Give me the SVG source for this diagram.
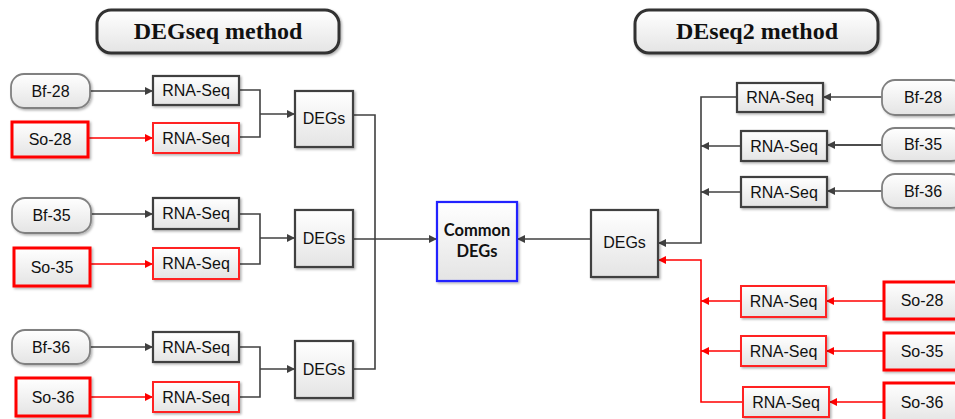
<svg xmlns="http://www.w3.org/2000/svg" width="955" height="419" viewBox="0 0 955 419">
<defs>
<linearGradient id="g" x1="0" y1="0" x2="0" y2="1">
<stop offset="0" stop-color="#ffffff"/>
<stop offset="1" stop-color="#e4e4e4"/>
</linearGradient>
<filter id="sh" x="-10%" y="-10%" width="130%" height="130%">
<feDropShadow dx="1.5" dy="1.5" stdDeviation="1" flood-color="#000" flood-opacity="0.3"/>
</filter>
<marker id="ag" viewBox="0 0 10 10" refX="10" refY="5" markerWidth="8" markerHeight="8" markerUnits="userSpaceOnUse" orient="auto">
<path d="M0,0 L10,5 L0,10 z" fill="#404040"/>
</marker>
<marker id="ar" viewBox="0 0 10 10" refX="10" refY="5" markerWidth="8" markerHeight="8" markerUnits="userSpaceOnUse" orient="auto">
<path d="M0,0 L10,5 L0,10 z" fill="#ff0000"/>
</marker>
</defs>
<style>
.box{fill:url(#g);stroke:#404040;stroke-width:2.2;filter:url(#sh)}
.bf{fill:url(#g);stroke:#808080;stroke-width:1.8;filter:url(#sh)}
.so{fill:url(#g);stroke:#ff0000;stroke-width:3;filter:url(#sh)}
.rr{fill:url(#g);stroke:#ff2020;stroke-width:2;filter:url(#sh)}
.cm{fill:url(#g);stroke:#2020ff;stroke-width:2.2;filter:url(#sh)}
.title{fill:url(#g);stroke:#333333;stroke-width:3;filter:url(#sh)}
.t{font-family:"Liberation Sans",Arial,sans-serif;font-size:16px;fill:#111;text-anchor:middle}
.tt{font-family:"Liberation Serif","Times New Roman",serif;font-size:24px;font-weight:bold;fill:#111;text-anchor:middle}
.tc{font-family:Lato,"Liberation Sans",sans-serif;font-size:16.5px;font-weight:bold;fill:#111;text-anchor:middle}
.cg{fill:none;stroke:#404040;stroke-width:1.6}
.cr{fill:none;stroke:#ff0000;stroke-width:1.6}
</style>

<g id="title-left"><rect class="title" x="97" y="10" width="242" height="43" rx="14"/><text class="tt" x="218" y="39">DEGseq method</text></g>
<g id="title-right"><rect class="title" x="635" y="10" width="243" height="43" rx="14"/><text class="tt" x="757" y="39">DEseq2 method</text></g>

<g id="connectors">
<path class="cg" d="M90,91 H153" marker-end="url(#ag)"/>
<path class="cr" d="M88,138 H153" marker-end="url(#ar)"/>
<path class="cg" d="M239,90 H260 V137 H239"/>
<path class="cg" d="M260,114 H295" marker-end="url(#ag)"/>
<path class="cg" d="M91,214 H153" marker-end="url(#ag)"/>
<path class="cr" d="M90,264 H153" marker-end="url(#ar)"/>
<path class="cg" d="M239,214 H260 V264 H239"/>
<path class="cg" d="M260,238 H295" marker-end="url(#ag)"/>
<path class="cg" d="M90,347 H153" marker-end="url(#ag)"/>
<path class="cr" d="M90,397 H153" marker-end="url(#ar)"/>
<path class="cg" d="M239,347 H260 V397 H239"/>
<path class="cg" d="M260,369 H295" marker-end="url(#ag)"/>
<path class="cg" d="M353,115 H375 V369 H353"/>
<path class="cg" d="M353,239 H437" marker-end="url(#ag)"/>
<path class="cg" d="M591,239 H517" marker-end="url(#ag)"/>
<path class="cg" d="M882,97 H823" marker-end="url(#ag)"/>
<path class="cg" d="M882,145 H827" marker-end="url(#ag)" style="stroke:#111"/>
<path class="cg" d="M882,191 H827" marker-end="url(#ag)"/>
<path class="cg" d="M737,97 H701 V243 H658" marker-end="url(#ag)"/>
<path class="cg" d="M741,146 H701" marker-end="url(#ag)"/>
<path class="cg" d="M741,192 H701" marker-end="url(#ag)"/>
<path class="cr" d="M884,301 H826" marker-end="url(#ar)"/>
<path class="cr" d="M884,351 H826" marker-end="url(#ar)"/>
<path class="cr" d="M884,402 H829" marker-end="url(#ar)"/>
<path class="cr" d="M743,402 H701 V260 H658" marker-end="url(#ar)"/>
<path class="cr" d="M741,301 H701" marker-end="url(#ar)"/>
<path class="cr" d="M741,351 H701" marker-end="url(#ar)"/>
</g>

<g id="bf28-l"><rect class="bf" x="11" y="74" width="79" height="34" rx="13"/><text class="t" x="50.5" y="97">Bf-28</text></g>
<g id="so28-l"><rect class="so" x="12" y="122" width="76" height="35"/><text class="t" x="50" y="145">So-28</text></g>
<g id="rna1-l"><rect class="box" x="153" y="76" width="86" height="29"/><text class="t" x="196" y="96">RNA-Seq</text></g>
<g id="rna2-l"><rect class="rr" x="153" y="123" width="86" height="30"/><text class="t" x="196" y="144">RNA-Seq</text></g>
<g id="degs1-l"><rect class="box" x="295" y="91" width="58" height="56"/><text class="t" x="324" y="124">DEGs</text></g>

<g id="bf35-l"><rect class="bf" x="12" y="198" width="79" height="35" rx="13"/><text class="t" x="51.5" y="221">Bf-35</text></g>
<g id="so35-l"><rect class="so" x="14" y="248" width="76" height="38"/><text class="t" x="52" y="273">So-35</text></g>
<g id="rna3-l"><rect class="box" x="153" y="198" width="86" height="31"/><text class="t" x="196" y="219">RNA-Seq</text></g>
<g id="rna4-l"><rect class="rr" x="153" y="248" width="86" height="31"/><text class="t" x="196" y="269">RNA-Seq</text></g>
<g id="degs2-l"><rect class="box" x="295" y="210" width="58" height="57"/><text class="t" x="324" y="244">DEGs</text></g>

<g id="bf36-l"><rect class="bf" x="12" y="330" width="78" height="34" rx="13"/><text class="t" x="51" y="353">Bf-36</text></g>
<g id="so36-l"><rect class="so" x="16" y="378" width="74" height="38"/><text class="t" x="53" y="403">So-36</text></g>
<g id="rna5-l"><rect class="box" x="153" y="332" width="86" height="30"/><text class="t" x="196" y="353">RNA-Seq</text></g>
<g id="rna6-l"><rect class="rr" x="153" y="382" width="86" height="30"/><text class="t" x="196" y="403">RNA-Seq</text></g>
<g id="degs3-l"><rect class="box" x="295" y="341" width="58" height="57"/><text class="t" x="324" y="375">DEGs</text></g>

<g id="common"><rect class="cm" x="437" y="202" width="80" height="79"/><text class="tc" x="477" y="236">Common</text><text class="tc" x="477" y="257">DEGs</text></g>
<g id="degs-r"><rect class="box" x="591" y="210" width="67" height="67"/><text class="t" x="624.5" y="248">DEGs</text></g>

<g id="rna1-r"><rect class="box" x="737" y="83" width="86" height="29"/><text class="t" x="780" y="103">RNA-Seq</text></g>
<g id="rna2-r"><rect class="box" x="741" y="131" width="86" height="30"/><text class="t" x="784" y="152">RNA-Seq</text></g>
<g id="rna3-r"><rect class="box" x="741" y="177" width="86" height="30"/><text class="t" x="784" y="198">RNA-Seq</text></g>
<g id="bf28-r"><rect class="bf" x="882" y="80" width="82" height="35" rx="13"/><text class="t" x="923" y="103">Bf-28</text></g>
<g id="bf35-r"><rect class="bf" x="882" y="128" width="82" height="33" rx="13"/><text class="t" x="923" y="150">Bf-35</text></g>
<g id="bf36-r"><rect class="bf" x="882" y="174" width="82" height="34" rx="13"/><text class="t" x="923" y="197">Bf-36</text></g>

<g id="rna4-r"><rect class="rr" x="741" y="286" width="85" height="31"/><text class="t" x="783.5" y="307">RNA-Seq</text></g>
<g id="rna5-r"><rect class="rr" x="741" y="336" width="85" height="30"/><text class="t" x="783.5" y="357">RNA-Seq</text></g>
<g id="rna6-r"><rect class="rr" x="743" y="387" width="86" height="30"/><text class="t" x="786" y="408">RNA-Seq</text></g>
<g id="so28-r"><rect class="so" x="884" y="282" width="80" height="37"/><text class="t" x="922" y="306">So-28</text></g>
<g id="so35-r"><rect class="so" x="884" y="333" width="80" height="37"/><text class="t" x="922" y="357">So-35</text></g>
<g id="so36-r"><rect class="so" x="884" y="383" width="80" height="40"/><text class="t" x="922" y="408">So-36</text></g>
</svg>
